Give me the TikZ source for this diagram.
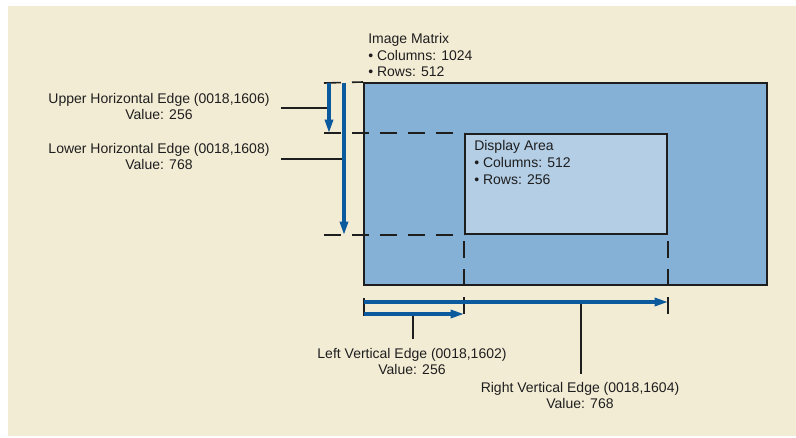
\documentclass[tikz,border=0pt]{standalone}
\usepackage{fontspec}
\setmainfont{Liberation Sans}
\usepackage{tikz}
\usetikzlibrary{arrows.meta, positioning, calc, fit}
\definecolor{paper}{RGB}{243,236,213}
\definecolor{matrixfill}{RGB}{133,177,214}
\definecolor{displayfill}{RGB}{180,206,230}
\definecolor{edgeblue}{RGB}{12,90,158}
\definecolor{ink}{RGB}{30,30,30}
\tikzset{
  boxnode/.style={rectangle,draw=ink,line width=1.5pt,inner sep=0pt},
  IMbox/.style={boxnode,fill=matrixfill},
  DAbox/.style={boxnode,fill=displayfill},
  labnode/.style={align=center,font=\fontsize{10.5pt}{12pt}\selectfont,text=ink,inner sep=0pt},
  infonode/.style={align=left,font=\fontsize{10.5pt}{12.5pt}\selectfont,text=ink,inner sep=0pt},
  edgearrow/.style={-{Triangle[length=10pt,width=6pt]},line width=2.3pt,edgeblue},
  leader/.style={ink,line width=1.1pt},
  guide/.style={ink,line width=1.2pt,dash pattern=on 12.75pt off 8.25pt},
  tickline/.style={ink,line width=1.2pt},
}
\begin{document}
\begin{tikzpicture}[x=0.75pt,y=-0.75pt]
  \useasboundingbox (0,0) rectangle (796,437);
  \fill[white] (0,0) rectangle (796,437);
  \fill[paper] (8,6) rectangle (796,436);
  \node[IMbox,fit={(364,83) (767,285)}] (IM) {};
  \node[DAbox,fit={(465,134) (667,234)}] (DA) {};
  \node[infonode,anchor=north west] (IMtxt) at (368,33) {Image Matrix\\\textbullet\ Columns: 1024\\\textbullet\ Rows: 512};
  \node[infonode,anchor=north west] (DAtxt) at (474,140.5) {Display Area\\\textbullet\ Columns: 512\\\textbullet\ Rows: 256};
  \node[labnode] (UH) at (159,106) {Upper Horizontal Edge (0018,1606)\\Value: 256};
  \node[labnode] (LH) at (159,156) {Lower Horizontal Edge (0018,1608)\\Value: 768};
  \node[labnode] (LV) at (412,361.5) {Left Vertical Edge (0018,1602)\\Value: 256};
  \node[labnode] (RV) at (580,395) {Right Vertical Edge (0018,1604)\\Value: 768};
  \coordinate (UA) at (329,83);
  \coordinate (LA) at (344,83);
  \coordinate (RA) at (364,302);
  \coordinate (LVA) at (364,314);
  \draw[guide] ($(UA)+(-5,0)$) -- (IM.north west);
  \draw[guide] ($(UA |- DA.north)+(-5,0)$) -- (DA.north west);
  \draw[guide] ($(UA |- DA.south)+(-5,0)$) -- (DA.south west);
  \draw[guide] ($(DA.south west)+(0,6)$) -- ($(DA.west |- LVA)+(0,2)$);
  \draw[guide] ($(DA.south east)+(0,6)$) -- ($(DA.east |- LVA)+(0,2)$);
  \draw[tickline] ($(RA)+(0,-4)$) -- ($(LVA)+(0,2)$);
  \draw[leader] ($(UH.east)+(11,2)$) -- ($(UH.east -| UA)+(0,2)$);
  \draw[leader] ($(LH.east)+(11,3)$) -- ($(LH.east -| LA)+(0,3)$);
  \draw[leader] ($(LV.north)+(1,-9)$) -- ($(LV.north |- LVA)+(1,0)$);
  \draw[leader] ($(RV.north)+(1,-8)$) -- ($(RV.north |- RA)+(1,0)$);
  \draw[edgearrow] (UA) -- (UA |- DA.north);
  \draw[edgearrow] (LA) -- (LA |- DA.south);
  \draw[edgearrow] (RA) -- (RA -| DA.east);
  \draw[edgearrow] (LVA) -- (LVA -| DA.west);
\end{tikzpicture}
\end{document}
